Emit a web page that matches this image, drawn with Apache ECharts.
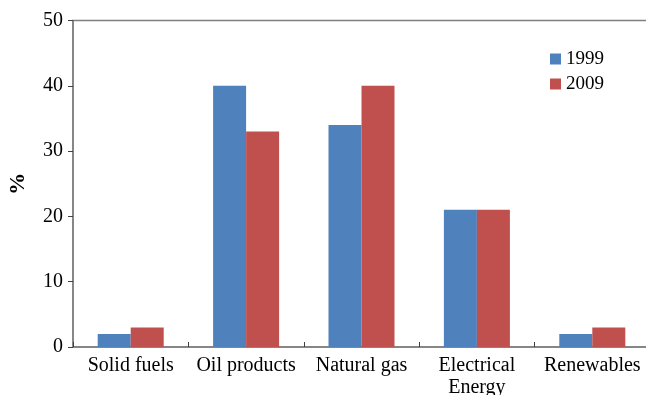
<!DOCTYPE html>
<html>
<head>
<meta charset="utf-8">
<script src="https://cdn.jsdelivr.net/npm/echarts@6/dist/echarts.min.js"></script>
<style>
  html, body { margin: 0; padding: 0; background: #fff; }
  #chart { width: 646px; height: 395px; }
</style>
</head>
<body>
<div id="chart"></div>
<script>
// Share of final energy consumption by fuel type (%)
const categories = ['Solid fuels', 'Oil products', 'Natural gas', 'Electrical\nEnergy', 'Renewables'];
const values1999 = [2, 40, 34, 21, 2];
const values2009 = [3, 33, 40, 21, 3];
const yTicks = [0, 10, 20, 30, 40, 50];

const font = '"Liberation Serif", "DejaVu Serif", serif';
const chart = echarts.init(document.getElementById('chart'), null, { renderer: 'canvas' });

chart.setOption({
  animation: false,
  backgroundColor: '#ffffff',
  textStyle: { fontFamily: font },
  grid: {
    left: 73, top: 20.5, width: 577, height: 326.5,
    outerBoundsMode: 'none',
    containLabel: false,
    show: true, borderColor: '#7f7f7f', borderWidth: 1.5, backgroundColor: 'transparent'
  },
  legend: {
    orient: 'vertical',
    left: 545, top: 44,
    itemWidth: 11, itemHeight: 11, itemGap: 5,
    icon: 'rect',
    textStyle: { fontFamily: font, fontSize: 19, color: '#000', lineHeight: 20 },
    data: ['1999', '2009']
  },
  xAxis: {
    type: 'category',
    data: categories,
    axisLine: { lineStyle: { color: '#7f7f7f', width: 1.5 } },
    axisTick: { show: true, inside: true, length: 5, alignWithLabel: false, lineStyle: { color: '#404040' } },
    axisLabel: { fontFamily: font, fontSize: 20, color: '#000', margin: 8, lineHeight: 22, interval: 0 }
  },
  yAxis: {
    type: 'value',
    min: yTicks[0], max: yTicks[yTicks.length - 1], interval: 10,
    name: '%',
    nameLocation: 'middle',
    nameRotate: 90,
    nameGap: 44,
    nameTextStyle: { fontFamily: font, fontSize: 22, fontWeight: 'bold', color: '#000' },
    splitLine: { show: false },
    axisLine: { show: true, lineStyle: { color: '#7f7f7f', width: 1.5 } },
    axisTick: { show: true, length: 5, lineStyle: { color: '#404040' } },
    axisLabel: { fontFamily: font, fontSize: 20, color: '#000', margin: 10 }
  },
  series: [
    {
      name: '1999', type: 'bar', data: values1999,
      barWidth: 33, barGap: '0%',
      itemStyle: { color: '#4F81BD' }
    },
    {
      name: '2009', type: 'bar', data: values2009,
      barWidth: 33, barGap: '0%',
      itemStyle: { color: '#C0504D' }
    }
  ]
});
</script>
</body>
</html>
